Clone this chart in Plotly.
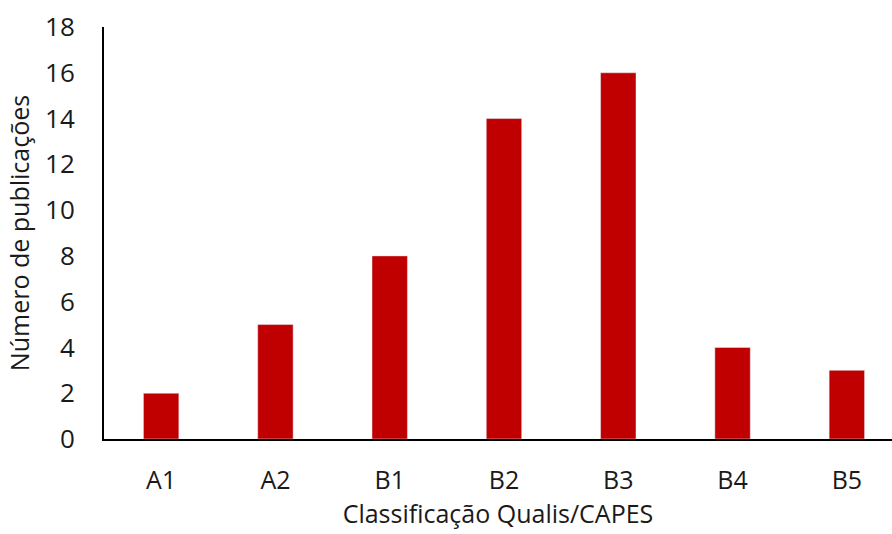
import plotly.graph_objects as go

categories = ["A1", "A2", "B1", "B2", "B3", "B4", "B5"]
values = [2, 5, 8, 14, 16, 4, 3]
y_ticks = [0, 2, 4, 6, 8, 10, 12, 14, 16, 18]

fig = go.Figure(go.Bar(x=categories, y=values, marker_color="#C00000", width=0.31))

font_family = "Open Sans, Liberation Sans, sans-serif"
fig.update_layout(
    width=892, height=534,
    margin=dict(l=104, r=0, t=27, b=95),
    plot_bgcolor="white", paper_bgcolor="white",
    font=dict(family=font_family, color="#1a1a1a", size=25),
    showlegend=False,
)
fig.update_xaxes(
    range=[-0.5, 6.395],
    showline=True, linecolor="black", linewidth=2,
    showgrid=False, ticks="", ticklabelstandoff=18,
    tickfont=dict(size=25),
    title=dict(text="Classificação Qualis/CAPES", font=dict(size=25), standoff=10),
)
fig.update_yaxes(
    range=[0, 18], tickvals=y_ticks,
    showline=True, linecolor="black", linewidth=2,
    showgrid=False, zeroline=False, ticks="", ticklabelstandoff=22,
    tickfont=dict(size=26),
    title=dict(text="Número de publicações", font=dict(size=25), standoff=8),
)
fig.write_html("out.html")
